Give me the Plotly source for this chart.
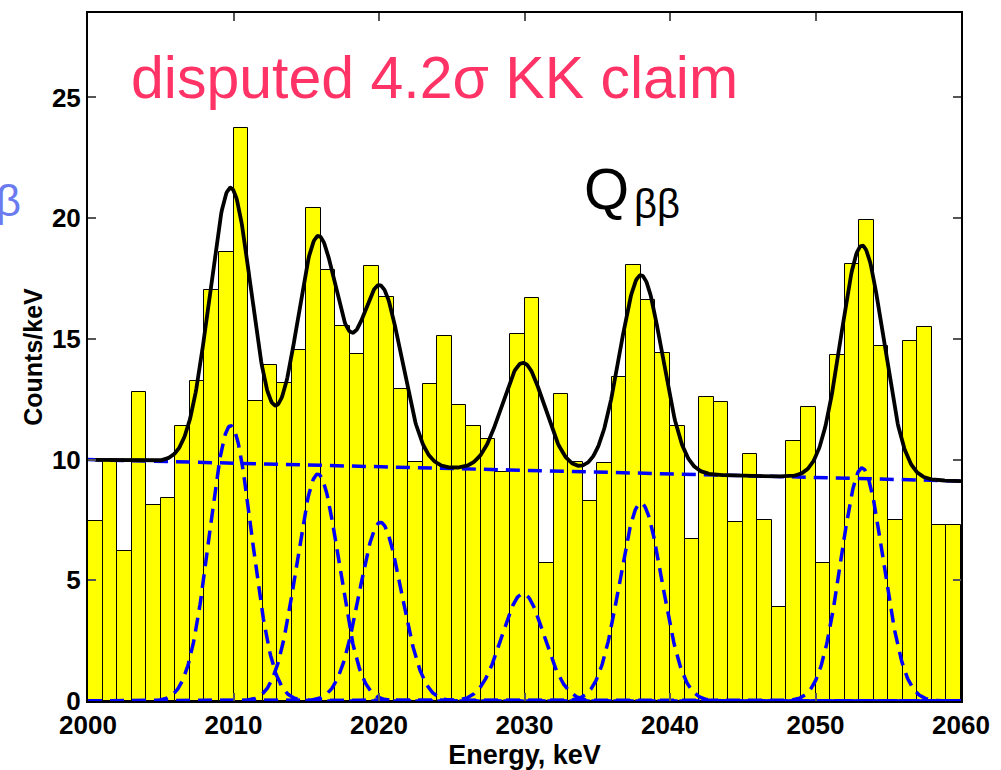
import numpy as np
import plotly.graph_objects as go

# Histogram: counts per 1 keV bin, lower bin edges 2000..2059 keV
bin_low_edges = list(range(2000, 2060))
counts = [
    7.44, 9.95, 6.22, 12.78, 8.10, 8.39, 11.40, 13.25, 17.03, 18.59,
    23.75, 12.42, 13.91, 13.18, 14.55, 20.41, 17.84, 15.55, 14.38, 18.04,
    16.74, 12.94, 9.90, 13.13, 15.11, 12.27, 11.40, 10.86, 9.48, 15.21,
    16.70, 5.70, 12.73, 9.90, 8.30, 9.84, 13.41, 18.08, 16.61, 14.42,
    11.40, 6.70, 12.58, 12.40, 7.42, 10.24, 7.48, 3.88, 10.78, 12.16,
    5.70, 14.33, 18.12, 19.94, 14.71, 7.48, 14.92, 15.50, 7.31, 7.31,
]

# Fit model: linear background plus Gaussian lines
bg_at_2000 = 10.0          # counts/keV at 2000 keV
bg_slope = -0.0148         # counts/keV per keV
peak_centers = [2009.8, 2015.8, 2020.1, 2029.9, 2038.0, 2053.2]
peak_amplitudes = [11.4, 9.4, 7.4, 4.45, 8.2, 9.65]
peak_sigma = 1.45          # keV

x_tick_values = [2000, 2010, 2020, 2030, 2040, 2050, 2060]
y_tick_values = [0, 5, 10, 15, 20, 25]

bin_centers = [e + 0.5 for e in bin_low_edges]
grid = np.linspace(2000.0, 2060.0, 1201)
fit_grid = grid[grid >= 2000.5]


def background(e):
    return bg_at_2000 + bg_slope * (e - 2000.0)


def gaussian(e, mu, amp):
    return amp * np.exp(-0.5 * ((e - mu) / peak_sigma) ** 2)


fig = go.Figure()

fig.add_trace(go.Bar(
    x=bin_centers, y=counts, width=1.0,
    marker=dict(color="#FFFF00", line=dict(color="black", width=1)),
    showlegend=False,
))

blue_dash = dict(color="#0000FF", width=3.5, dash="14px,8px")

# Individual line components
for mu, amp in zip(peak_centers, peak_amplitudes):
    fig.add_trace(go.Scatter(
        x=grid, y=gaussian(grid, mu, amp), mode="lines",
        line=blue_dash, showlegend=False, hoverinfo="skip",
    ))

# Background component
fig.add_trace(go.Scatter(
    x=grid, y=background(grid), mode="lines",
    line=blue_dash, showlegend=False, hoverinfo="skip",
))

# Total fit
total = background(fit_grid)
for mu, amp in zip(peak_centers, peak_amplitudes):
    total = total + gaussian(fit_grid, mu, amp)
fig.add_trace(go.Scatter(
    x=fit_grid, y=total, mode="lines",
    line=dict(color="black", width=3.8), showlegend=False, hoverinfo="skip",
))

FONT = "Liberation Sans, Arial, sans-serif"
tick_font = dict(family=FONT, size=26, color="black")
axis_common = dict(
    showline=True, linecolor="black", linewidth=2, mirror="allticks",
    ticks="inside", ticklen=8, tickwidth=1.5, tickcolor="#555555",
    showgrid=False, zeroline=False, tickfont=tick_font,
)

fig.update_layout(
    width=1001, height=770,
    margin=dict(l=88, r=33, t=11, b=65),
    paper_bgcolor="white", plot_bgcolor="white",
    bargap=0,
    xaxis=dict(
        range=[2000, 2060], tickvals=x_tick_values,
        ticktext=[f"<b>{v}</b>" for v in x_tick_values],
        title=dict(text="<b>Energy, keV</b>", standoff=0,
                   font=dict(family=FONT, size=27, color="black")),
        **axis_common,
    ),
    yaxis=dict(
        range=[0, 28.5], tickvals=y_tick_values,
        ticktext=[f"<b>{v}</b>" for v in y_tick_values],
        title=dict(text="<b>Counts/keV</b>", standoff=2,
                   font=dict(family=FONT, size=25, color="black")),
        **axis_common,
    ),
    annotations=[
        dict(text="disputed 4.2σ KK claim", xref="paper", yref="paper",
             x=0.047, y=0.905, xanchor="left", yanchor="middle", showarrow=False,
             font=dict(family=FONT, size=59, color="#FF3366")),
        dict(text="Q", xref="paper", yref="paper",
             x=0.566, y=0.745, xanchor="left", yanchor="middle", showarrow=False,
             font=dict(family=FONT, size=58, color="black")),
        dict(text="ββ", xref="paper", yref="paper",
             x=0.623, y=0.722, xanchor="left", yanchor="middle", showarrow=False,
             font=dict(family=FONT, size=40, color="black")),
        dict(text="0νββ", xref="paper", yref="paper",
             x=-0.075, y=0.728, xanchor="right", yanchor="middle", showarrow=False,
             font=dict(family=FONT, size=44, color="#6B7BEF")),
    ],
)

fig.write_html("out.html")
